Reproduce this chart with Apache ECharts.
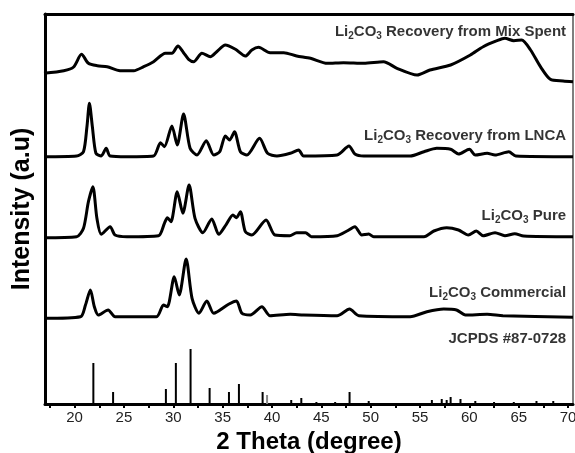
<!DOCTYPE html>
<html>
<head>
<meta charset="utf-8">
<script src="https://cdn.jsdelivr.net/npm/echarts@6/dist/echarts.min.js"></script>
<style>
html,body{margin:0;padding:0;background:#fff;}
#chart{width:575px;height:453px;}
</style>
</head>
<body>
<div id="chart"></div>
<script>
// 2-theta tick labels
const xTickLabels = [20, 25, 30, 35, 40, 45, 50, 55, 60, 65, 70];
const xTickMarks = [17.5, 20, 22.5, 25, 27.5, 30, 32.5, 35, 37.5, 40, 42.5, 45, 47.5, 50, 52.5, 55, 57.5, 60, 62.5, 65, 67.5, 70];

// Li2CO3 Recovery from Mix Spent  [2theta, intensity]
const mixSpent = [[16.9,330.7],[18.9,333.3],[19.9,337],[20.7,349.7],[21.4,340.7],[22.3,338.3],[23.3,337.3],[24.6,333.3],[26.0,333.3],[27.0,337.3],[28.0,342.3],[29.2,350.7],[29.86,350.7],[30.47,358],[31.04,351.3],[31.55,344.7],[32.06,342.3],[32.9,350.7],[33.75,347.3],[34.4,352.3],[35.27,359],[36.3,354.7],[37.3,348],[37.96,354],[38.64,356.7],[39.8,351.3],[41.2,351.3],[42.5,348],[43.9,345.7],[45.6,340.7],[47.25,341.3],[49.3,340.7],[51.3,342.3],[52.66,335.7],[54.7,329],[56.0,334],[58.1,339],[60.1,349],[61.4,357.3],[62.8,363.3],[63.6,365.7],[64.5,363.3],[65.3,364],[66.2,354],[67.2,337.3],[68.2,324.7],[69.5,323],[70.5,322.3]];

// Li2CO3 Recovery from LNCA
const lnca = [[16.9,247.3],[20.2,248],[20.9,252.3],[21.25,277.3],[21.5,300.7],[21.8,277.3],[22.16,250.7],[22.7,248],[23.2,255.7],[23.6,248],[25.3,247.3],[28.0,248],[28.7,261.3],[29.1,257.3],[29.86,278],[30.4,259],[31.04,290],[31.7,255.7],[32.4,249],[33.34,263.3],[34.1,249],[34.7,252.3],[35.27,268],[35.7,264],[36.2,272.3],[36.8,252.3],[37.46,249],[38.74,265.7],[39.55,250.7],[40.5,248],[41.85,250.7],[42.7,254],[43.2,248],[46.6,249],[47.8,258],[48.4,250],[49.3,248],[54.0,248],[55.4,252.3],[56.7,255.7],[58.1,254.7],[58.9,250],[60.0,254.7],[60.6,249],[61.8,250.7],[62.6,249],[64.0,252.3],[64.7,248],[70.5,247.3]];

// Li2CO3 Pure
const pure = [[16.9,166.3],[20.2,167.3],[20.9,175.7],[21.4,202.3],[21.85,217.3],[22.26,185.7],[22.7,169.7],[23.6,177.3],[24.1,169],[25.3,167.3],[28.5,168.3],[29.1,180.7],[29.4,186.3],[29.76,182.3],[30.4,212.3],[30.97,190.7],[31.6,219],[32.2,185.7],[33.0,171.3],[33.9,185],[34.6,169.7],[35.37,179.7],[36.04,189],[36.4,186.3],[36.8,192.3],[37.3,172.3],[37.96,169],[39.4,184],[40.3,169],[41.8,168.3],[42.5,171.3],[43.4,171.3],[44.0,167.3],[46.6,168.3],[47.6,173],[48.4,177.3],[49.1,169],[49.8,170],[50.3,167.3],[55.4,167.3],[56.4,173],[57.7,176.3],[58.9,174],[59.9,169],[60.7,173],[61.4,168.3],[62.6,171.3],[63.6,168.3],[64.6,170.3],[65.5,168],[70.5,167.3]];

// Li2CO3 Commercial
const commercial = [[16.9,85.7],[20.6,87.3],[21.1,99],[21.6,114],[22.0,97.3],[22.4,89],[23.4,94],[24.1,87.3],[28.3,87.3],[29.0,99],[29.4,97.3],[30.1,127.3],[30.6,109],[31.3,145],[31.9,105.7],[32.6,90.7],[33.4,103],[34.1,90.7],[35.6,99.7],[36.4,103],[36.95,90.7],[37.8,89],[38.98,97.3],[39.8,88.3],[41.85,89.7],[43.2,89],[46.6,88.3],[47.86,95],[48.8,88.3],[54.0,87.3],[55.7,92.3],[57.4,95],[58.7,94],[59.6,89],[61.8,89.7],[63.4,88.3],[70.5,86.7]];

// JCPDS #87-0728 reference lines
const jcpdsPos = [21.9, 23.9, 29.25, 30.26, 31.75, 33.68, 35.64, 36.65, 39.05, 39.5, 41.95, 42.97, 44.5, 46.4, 47.86, 49.8, 56.2, 57.2, 57.7, 58.1, 59.1, 60.6, 62.5, 64.5, 66.8, 68.5];
const jcpdsInt = [41, 12, 15, 41, 55, 16, 12, 20, 12, 9, 4, 6, 2, 2, 12, 3, 4, 5, 4, 7, 5, 3, 2, 2, 3, 3];

// Pattern labels
const labelTexts = [
  '{m|Li}{s|2}{m|CO}{s|3}{m| Recovery from Mix Spent}',
  '{m|Li}{s|2}{m|CO}{s|3}{m| Recovery from LNCA}',
  '{m|Li}{s|2}{m|CO}{s|3}{m| Pure}',
  '{m|Li}{s|2}{m|CO}{s|3}{m| Commercial}',
  '{m|JCPDS #87-0728}'
];
const labelX = [69.8, 69.8, 69.8, 69.8, 69.8];
const labelY = [372, 268, 188, 111, 65];

const chart = echarts.init(document.getElementById('chart'), null, {renderer: 'canvas'});

const lineStyle = {color: '#000', width: 3};
function lineSeries(name, data) {
  return {
    name: name, type: 'line', data: data, showSymbol: false, symbol: 'none',
    smooth: 0.25, lineStyle: lineStyle, z: 3, animation: false
  };
}

const stickData = jcpdsPos.map((p, i) => ({
  value: [p, jcpdsInt[i]],
  itemStyle: {color: p === 39.5 ? '#888' : '#000'}
}));

const labelData = labelTexts.map((t, i) => ({value: [labelX[i], labelY[i]], text: t}));

const FONT = 'Liberation Sans, Arial, sans-serif';

const option = {
  backgroundColor: '#fff',
  animation: false,
  grid: {left: 45, right: 2, top: 14, bottom: 49, containLabel: false, outerBoundsMode: 'none'},
  xAxis: [{
    type: 'value', min: 17, max: 70.5,
    axisLine: {show: true, onZero: false, lineStyle: {color: '#000', width: 3}},
    axisTick: {show: true, inside: false, length: 4, customValues: xTickMarks, lineStyle: {color: '#000', width: 2}},
    axisLabel: {show: true, customValues: xTickLabels, color: '#222', fontSize: 15, margin: 6, fontFamily: FONT},
    splitLine: {show: false},
    name: '2 Theta (degree)', nameLocation: 'middle', nameGap: 25,
    nameTextStyle: {fontSize: 24, fontWeight: 'bold', color: '#000', fontFamily: FONT}
  }, {
    type: 'value', min: 17, max: 70.5, position: 'top',
    axisLine: {show: true, onZero: false, lineStyle: {color: '#000', width: 3}},
    axisTick: {show: false}, axisLabel: {show: false}, splitLine: {show: false}
  }],
  yAxis: [{
    type: 'value', min: 0, max: 390,
    axisLine: {show: true, onZero: false, lineStyle: {color: '#000', width: 3}},
    axisTick: {show: false}, axisLabel: {show: false}, splitLine: {show: false},
    name: 'Intensity (a.u)', nameLocation: 'middle', nameGap: 10,
    nameTextStyle: {fontSize: 25, fontWeight: 'bold', color: '#000', fontFamily: FONT}
  }, {
    type: 'value', min: 0, max: 390, position: 'right',
    axisLine: {show: true, onZero: false, lineStyle: {color: '#555', width: 1.5}},
    axisTick: {show: false}, axisLabel: {show: false}, splitLine: {show: false}
  }],
  series: [
    lineSeries('Mix Spent', mixSpent),
    lineSeries('LNCA', lnca),
    lineSeries('Pure', pure),
    lineSeries('Commercial', commercial),
    {
      name: 'JCPDS', type: 'bar', data: stickData, barWidth: 2, z: 2,
      animation: false
    },
    {
      name: 'labels', type: 'scatter', data: labelData, symbolSize: 0, z: 5,
      label: {
        show: true, position: 'left', distance: 0,
        formatter: p => p.data.text,
        rich: {
          m: {fontSize: 15, fontWeight: 'bold', color: '#000', fontFamily: FONT, lineHeight: 18},
          s: {fontSize: 10, fontWeight: 'bold', color: '#000', fontFamily: FONT, lineHeight: 10, verticalAlign: 'bottom'}
        }
      }
    }
  ]
};
chart.setOption(option);
</script>
</body>
</html>
